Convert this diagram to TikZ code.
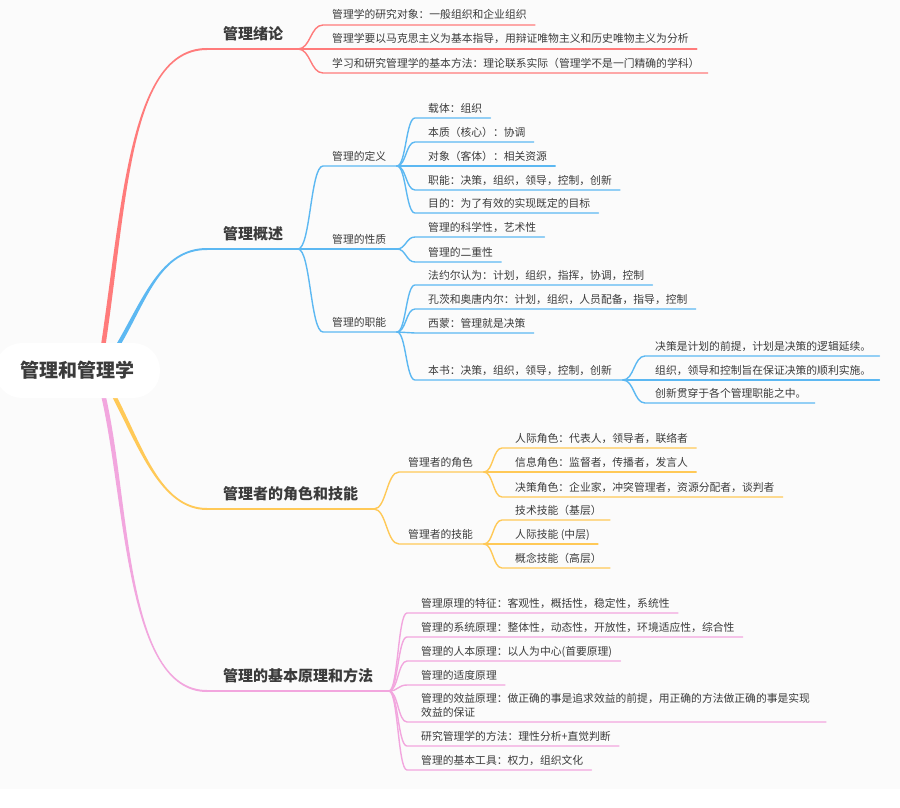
\documentclass[tikz,border=0pt]{standalone}
\usepackage{fontspec}
\setmainfont{Noto Sans CJK SC}
\usetikzlibrary{calc}
\definecolor{rd}{HTML}{FF7B7B}
\definecolor{bl}{HTML}{5CB8F2}
\definecolor{yl}{HTML}{FFC957}
\definecolor{pk}{HTML}{F2A6DE}
\definecolor{tc}{HTML}{3B3B3B}
\definecolor{bg}{HTML}{FBFBFB}
\newcommand\lffont{\fontsize{10.8}{14}\selectfont}
\newcommand\ttlfont{\fontsize{15}{18}\selectfont\bfseries}
\newcommand\rootfont{\fontsize{19}{22}\selectfont\bfseries}
% tapered main branch: colour, side sign, x0, y0, c1x, c1y, c2x, c2y, y1 (ends at x=207)
\newcommand\taper[9]{%
  \fill[#1] ({#3+2.3*#2},#4) .. controls ({#5+2.3*#2},#6) and (#7,{#8-1}) .. (207,{#9-1})
    -- (207,{#9+1}) .. controls (#7,{#8+1}) and ({#5-2.3*#2},#6) .. ({#3-2.3*#2},#4) -- cycle;}
% leaf: style, name, fork, fork x, fork y, line start x, text x, underline y, text
\newcommand\twig[9]{%
  \node[lf] (#2) at (#7,#8-6) {#9};
  \draw[#1] (#3) .. controls ({(#4+#6)/2},#5) and ({(#4+#6)/2},#8) .. (#6,#8) -- ($(#2.base east)+(8,6)$);}
% parent: same, underline runs to its own fork (#2-f)
\newcommand\twigp[9]{%
  \node[lf] (#2) at (#7,#8-6) {#9};
  \draw[#1] (#3) .. controls ({(#4+#6)/2},#5) and ({(#4+#6)/2},#8) .. (#6,#8) -- (#2-f);}
\begin{document}
\begin{tikzpicture}[x=1pt,y=-1pt,
  lf/.style={anchor=base west, inner sep=0pt, text=tc, font=\lffont},
  ttl/.style={anchor=base west, inner sep=0pt, text=tc, font=\ttlfont},
  rootbox/.style={fill=white, rounded corners=27pt, minimum width=165pt, minimum height=55pt, inner sep=0pt, text=tc, font=\rootfont},
  cl/.style={line width=1.4pt, line cap=round},
  tl/.style={line width=2pt, line cap=round}]
\useasboundingbox (0,0) rectangle (900,808);
\fill[bg] (0,0) rectangle (900,789);
% main branches
\taper{rd}{-1}{103}{347}{125}{200}{130}{49}{49}
\taper{bl}{-1}{117}{347}{145}{300}{160}{249}{249}
\taper{yl}{1}{113}{394}{140}{445}{160}{509}{509}
\taper{pk}{1}{103}{394}{128}{500}{125}{691}{691}
\node[rootbox] (root) at (77.5,370.5) {管理和管理学};

% ---------- red
\node[ttl] (t1) at (223,39.5) {管理绪论};
\coordinate (t1-s) at (207,49);
\coordinate (f1) at (298,49);
\draw[rd,tl] (t1-s) -- (f1);
\twig{rd,cl}{r1}{f1}{298}{49}{323}{332}{25}{管理学的研究对象：一般组织和企业组织}
\twig{rd,cl}{r2}{f1}{298}{49}{323}{332}{49}{管理学要以马克思主义为基本指导，用辩证唯物主义和历史唯物主义为分析}
\twig{rd,cl}{r3}{f1}{298}{49}{323}{332}{73}{学习和研究管理学的基本方法：理论联系实际（管理学不是一门精确的学科）}

% ---------- blue
\node[ttl] (t2) at (223,239.5) {管理概述};
\coordinate (t2-s) at (207,249);
\coordinate (f2) at (298,249);
\draw[bl,tl] (t2-s) -- (f2);
\coordinate (def-f) at (397,166);
\coordinate (nat-f) at (397,249);
\coordinate (fun-f) at (397,332);
\coordinate (bk-f) at (623,380);
\twigp{bl,cl}{def}{f2}{298}{249}{323}{332}{166}{管理的定义}
\twigp{bl,cl}{nat}{f2}{298}{249}{323}{332}{249}{管理的性质}
\twigp{bl,cl}{fun}{f2}{298}{249}{323}{332}{332}{管理的职能}
\twig{bl,cl}{d1}{def-f}{397}{166}{415}{428}{118}{载体：组织}
\twig{bl,cl}{d2}{def-f}{397}{166}{415}{428}{142}{本质（核心）：协调}
\twig{bl,cl}{d3}{def-f}{397}{166}{415}{428}{166}{对象（客体）：相关资源}
\twig{bl,cl}{d4}{def-f}{397}{166}{415}{428}{190}{职能：决策，组织，领导，控制，创新}
\twig{bl,cl}{d5}{def-f}{397}{166}{415}{428}{213}{目的：为了有效的实现既定的目标}
\twig{bl,cl}{n1}{nat-f}{397}{249}{415}{428}{237}{管理的科学性，艺术性}
\twig{bl,cl}{n2}{nat-f}{397}{249}{415}{428}{262}{管理的二重性}
\twig{bl,cl}{u1}{fun-f}{397}{332}{415}{428}{285}{法约尔认为：计划，组织，指挥，协调，控制}
\twig{bl,cl}{u2}{fun-f}{397}{332}{415}{428}{309}{孔茨和奥唐内尔：计划，组织，人员配备，指导，控制}
\twig{bl,cl}{u3}{fun-f}{397}{332}{415}{428}{333}{西蒙：管理就是决策}
\twigp{bl,cl}{bk}{fun-f}{397}{332}{415}{428}{380}{本书：决策，组织，领导，控制，创新}
\twig{bl,cl}{b1}{bk-f}{623}{380}{645}{655}{356}{决策是计划的前提，计划是决策的逻辑延续。}
\twig{bl,cl}{b2}{bk-f}{623}{380}{645}{655}{380}{组织，领导和控制旨在保证决策的顺利实施。}
\twig{bl,cl}{b3}{bk-f}{623}{380}{645}{655}{403}{创新贯穿于各个管理职能之中。}

% ---------- yellow
\node[ttl] (t3) at (223,499.5) {管理者的角色和技能};
\coordinate (t3-s) at (207,509);
\coordinate (f3) at (374,509);
\draw[yl,tl] (t3-s) -- (f3);
\coordinate (rol-f) at (484,472);
\coordinate (skl-f) at (484,544);
\twigp{yl,cl}{rol}{f3}{374}{509}{399}{408}{472}{管理者的角色}
\twigp{yl,cl}{skl}{f3}{374}{509}{399}{408}{544}{管理者的技能}
\twig{yl,cl}{o1}{rol-f}{484}{472}{502}{515}{448}{人际角色：代表人，领导者，联络者}
\twig{yl,cl}{o2}{rol-f}{484}{472}{502}{515}{472}{信息角色：监督者，传播者，发言人}
\twig{yl,cl}{o3}{rol-f}{484}{472}{502}{515}{497}{决策角色：企业家，冲突管理者，资源分配者，谈判者}
\twig{yl,cl}{s1}{skl-f}{484}{544}{502}{515}{520}{技术技能（基层）}
\twig{yl,cl}{s2}{skl-f}{484}{544}{502}{515}{544}{人际技能 (中层)}
\twig{yl,cl}{s3}{skl-f}{484}{544}{502}{515}{568}{概念技能（高层）}

% ---------- pink
\node[ttl] (t4) at (223,681.5) {管理的基本原理和方法};
\coordinate (t4-s) at (207,691);
\coordinate (f4) at (389,691);
\draw[pk,tl] (t4-s) -- (f4);
\twig{pk,cl}{p1}{f4}{389}{691}{407}{421}{613}{管理原理的特征：客观性，概括性，稳定性，系统性}
\twig{pk,cl}{p2}{f4}{389}{691}{407}{421}{637}{管理的系统原理：整体性，动态性，开放性，环境适应性，综合性}
\twig{pk,cl}{p3}{f4}{389}{691}{407}{421}{661}{管理的人本原理：以人为中心(首要原理)}
\twig{pk,cl}{p4}{f4}{389}{691}{407}{421}{685}{管理的适度原理}
\node[lf] (p5) at (421,702) {\begin{tabular}[t]{@{}l@{}}管理的效益原理：做正确的事是追求效益的前提，用正确的方法做正确的事是实现\\效益的保证\end{tabular}};
\draw[pk,cl] (f4) .. controls (398,691) and (398,722) .. (407,722) -- ($(p5.base west)+(405,20)$);
\twig{pk,cl}{p6}{f4}{389}{691}{407}{421}{746}{研究管理学的方法：理性分析+直觉判断}
\twig{pk,cl}{p7}{f4}{389}{691}{407}{421}{770}{管理的基本工具：权力，组织文化}
\end{tikzpicture}
\end{document}
